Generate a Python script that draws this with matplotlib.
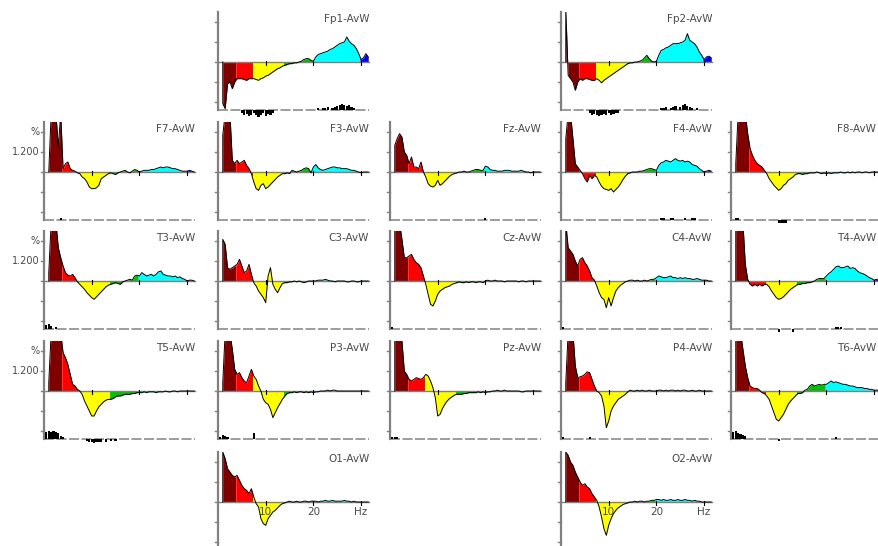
import numpy as np
import matplotlib.pyplot as plt

plt.rcParams['font.family'] = ['DejaVu Sans']

# frequencies 1.0 .. 31.5 Hz, 0.5 Hz steps
freqs = np.arange(1.0, 31.75, 0.5)

# band order per list: delta(6) theta(7) alpha(13) beta1(12) beta2(20) gamma(4)
fp1 = [-2.5, -2.8, -1.3, -1.2, -1.6, -1.2,
       -1.0, -1.0, -1.0, -1.05, -1.1, -1.0, -1.0,
       -1.0, -1.05, -1.1, -1.0, -0.95, -0.85, -0.8, -0.7, -0.6, -0.5, -0.4, -0.35, -0.25,
       -0.2, -0.15, -0.1, -0.1, -0.05, -0.05, 0.0, 0.05, 0.15, 0.2, 0.2, 0.1,
       0.05, 0.3, 0.45, 0.5, 0.55, 0.6, 0.65, 0.75, 0.8, 0.9, 1.0, 1.1, 1.15, 1.2, 1.5, 1.25, 1.1, 1.0, 0.8, 0.5,
       0.15, 0.25, 0.5, 0.3]
fp2 = [3.2, -0.8, -1.0, -1.2, -1.7, -1.2,
       -1.0, -1.1, -1.0, -1.0, -1.05, -1.1, -1.1,
       -1.0, -1.1, -1.25, -1.1, -1.0, -0.9, -0.8, -0.7, -0.6, -0.5, -0.4, -0.3, -0.2,
       -0.1, -0.05, -0.05, 0.0, 0.0, 0.05, 0.1, 0.25, 0.4, 0.2, 0.05, 0.0,
       0.05, 0.4, 0.7, 0.75, 0.85, 0.9, 1.0, 1.1, 1.1, 1.1, 1.15, 1.2, 1.3, 1.7, 1.3, 1.2, 1.1, 0.9, 0.6, 0.4,
       0.15, 0.3, 0.35, 0.25]
f7 = [0.0, 3.5, 3.5, 3.5, 1.5, 3.5,
      0.2, 0.5, 0.6, 0.2, 0.1, 0.05, -0.05,
      -0.1, -0.3, -0.4, -0.6, -0.9, -1.0, -1.0, -0.95, -0.8, -0.4, -0.3, -0.2, -0.1,
      -0.05, -0.1, -0.15, -0.05, 0.0, 0.05, 0.1, 0.0, -0.05, 0.05, 0.15, 0.1,
      0.0, 0.05, 0.1, 0.1, 0.1, 0.15, 0.15, 0.2, 0.25, 0.3, 0.25, 0.3, 0.3, 0.25, 0.2, 0.2, 0.15, 0.1, 0.05, 0.05,
      0.05, 0.1, 0.05, 0.0]
f3 = [2.2, 3.5, 3.5, 3.5, 0.7, 0.5,
      0.7, 0.5, 0.6, 0.7, 0.4, 0.2, -0.1,
      -0.6, -1.0, -1.1, -0.8, -0.7, -1.0, -0.9, -0.75, -0.6, -0.45, -0.3, -0.2, -0.1,
      -0.1, -0.05, -0.1, 0.1, 0.05, 0.0, 0.05, 0.1, 0.2, 0.25, 0.2, -0.05,
      0.3, 0.45, 0.25, 0.15, 0.1, 0.15, 0.2, 0.25, 0.3, 0.3, 0.25, 0.25, 0.2, 0.2, 0.2, 0.15, 0.1, 0.1, 0.05, 0.0,
      -0.05, 0.0, 0.0, 0.0]
fz = [1.6, 2.0, 2.3, 2.1, 1.2, 1.0,
      0.5, 0.9, 0.3, 0.3, 0.2, 0.6, 0.0,
      -0.3, -0.7, -0.85, -0.9, -0.8, -0.5, -0.8, -0.7, -0.55, -0.4, -0.25, -0.15, -0.1,
      -0.05, 0.0, 0.0, 0.05, 0.0, 0.0, 0.05, 0.1, 0.15, 0.15, 0.1, 0.1,
      0.35, 0.3, 0.15, 0.1, 0.1, 0.05, 0.05, 0.05, 0.1, 0.1, 0.1, 0.05, 0.05, 0.05, 0.05, 0.1, 0.05, 0.0, 0.0, -0.05,
      0.0, 0.0, 0.0, 0.0]
f4 = [2.0, 3.5, 3.5, 2.0, 0.5, 0.3,
      0.1, -0.1, -0.4, -0.6, -0.2, -0.4, -0.2,
      -0.3, -0.6, -0.85, -1.0, -1.05, -1.1, -1.0, -1.2, -1.05, -0.9, -0.7, -0.45, -0.25,
      -0.1, -0.05, 0.0, 0.0, 0.0, 0.05, 0.05, 0.1, 0.15, 0.2, 0.2, 0.15,
      0.1, 0.4, 0.55, 0.6, 0.7, 0.65, 0.6, 0.7, 0.8, 0.7, 0.65, 0.7, 0.6, 0.65, 0.6, 0.45, 0.4, 0.35, 0.2, 0.1,
      0.0, 0.05, 0.1, 0.05]
f8 = [0.5, 3.5, 3.5, 3.5, 3.5, 2.3,
      1.4, 1.0, 0.7, 0.5, 0.4, 0.3, 0.1,
      -0.1, -0.4, -0.6, -0.8, -0.95, -1.1, -1.0, -0.8, -0.7, -0.5, -0.4, -0.3, -0.15,
      -0.1, -0.1, -0.15, -0.1, -0.1, -0.05, -0.05, -0.05, 0.0, -0.05, -0.1, -0.05,
      -0.1, -0.05, -0.1, -0.05, -0.05, -0.05, 0.0, -0.05, -0.05, 0.0, -0.05, 0.0, -0.05, 0.0, 0.0, -0.05, 0.0, 0.0, -0.05, 0.0,
      0.0, 0.0, 0.0, 0.0]
t3 = [0.5, 3.5, 3.5, 3.5, 2.0, 1.4,
      0.9, 0.5, 0.35, 0.3, 0.4, 0.2, -0.05,
      -0.2, -0.35, -0.5, -0.7, -0.85, -1.0, -1.1, -0.95, -0.8, -0.65, -0.5, -0.35, -0.25,
      -0.2, -0.15, -0.1, -0.15, -0.2, -0.05, 0.0, 0.05, 0.1, 0.05, 0.3, 0.35,
      0.3, 0.5, 0.4, 0.3, 0.35, 0.4, 0.3, 0.4, 0.55, 0.6, 0.4, 0.35, 0.3, 0.3, 0.25, 0.3, 0.2, 0.25, 0.15, 0.1,
      0.0, 0.05, 0.05, 0.0]
c3 = [2.5, 2.2, 0.8, 0.7, 0.8, 0.9,
      1.0, 1.3, 0.9, 0.5, 0.6, 1.0, 0.4,
      -0.1, -0.3, -0.6, -0.8, -1.0, -1.3, 0.3, 0.8, -0.2, -0.5, -0.7, -0.4, -0.15,
      -0.1, -0.1, -0.05, -0.05, 0.0, -0.05, 0.0, -0.05, -0.1, -0.05, 0.0, 0.0,
      0.0, 0.0, 0.05, 0.05, 0.05, 0.1, 0.05, 0.0, 0.0, -0.05, 0.0, 0.0, 0.0, 0.0, -0.05, -0.05, 0.0, 0.0, -0.05, -0.05,
      0.0, 0.0, 0.0, 0.0]
cz = [3.5, 3.5, 3.5, 2.5, 1.4, 1.4,
      1.5, 1.6, 1.3, 1.1, 1.0, 0.8, 0.3,
      -0.2, -0.8, -1.4, -1.5, -1.2, -0.8, -0.6, -0.5, -0.4, -0.35, -0.3, -0.2, -0.15,
      -0.1, -0.05, -0.1, -0.1, -0.05, -0.1, -0.05, -0.05, -0.1, -0.05, -0.05, -0.1,
      0.0, 0.05, 0.0, 0.0, 0.05, 0.0, 0.0, 0.0, -0.05, 0.0, 0.0, 0.0, 0.0, 0.0, -0.05, 0.0, 0.0, -0.05, 0.0, 0.0,
      0.0, 0.0, 0.0, 0.0]
c4 = [3.5, 2.0, 1.8, 1.6, 1.2, 0.9,
      1.3, 1.4, 1.1, 0.9, 0.6, 0.2, 0.05,
      -0.3, -0.7, -1.0, -1.1, -1.6, -1.0, -1.5, -1.0, -0.6, -0.4, -0.25, -0.15, -0.05,
      0.0, 0.05, 0.05, 0.0, 0.05, 0.0, 0.0, 0.05, 0.0, 0.05, 0.1, 0.1,
      0.2, 0.3, 0.25, 0.2, 0.2, 0.25, 0.3, 0.2, 0.2, 0.15, 0.2, 0.15, 0.2, 0.15, 0.15, 0.1, 0.1, 0.15, 0.1, 0.05,
      0.05, 0.05, 0.0, 0.0]
t4 = [3.5, 3.5, 3.5, 3.5, 1.0, 0.1,
      -0.2, -0.3, -0.2, -0.3, -0.2, -0.3, -0.2,
      -0.2, -0.35, -0.6, -0.8, -1.0, -1.1, -1.05, -0.95, -0.8, -0.65, -0.5, -0.4, -0.3,
      -0.2, -0.2, -0.15, -0.15, -0.1, -0.1, -0.05, 0.0, 0.1, 0.15, 0.15, 0.15,
      0.3, 0.45, 0.55, 0.7, 0.85, 0.9, 0.8, 0.8, 0.85, 0.9, 0.75, 0.8, 0.75, 0.6, 0.5, 0.45, 0.4, 0.3, 0.2, 0.15,
      0.05, 0.1, 0.05, 0.05]
t5 = [0.5, 3.5, 3.5, 3.5, 3.5, 3.5,
      2.3, 2.0, 1.6, 1.0, 0.4, 0.3, 0.1,
      0.0, -0.2, -0.6, -0.9, -1.2, -1.5, -1.5, -1.2, -0.95, -0.8, -0.65, -0.55, -0.5,
      -0.5, -0.45, -0.35, -0.3, -0.3, -0.25, -0.2, -0.2, -0.2, -0.15, -0.15, -0.1,
      -0.1, -0.1, -0.05, -0.1, -0.05, -0.05, -0.05, -0.1, -0.05, -0.05, -0.05, 0.0, -0.05, -0.05, 0.0, 0.0, -0.05, 0.0, 0.0, 0.0,
      0.0, 0.0, 0.0, 0.0]
p3 = [0.5, 3.5, 3.5, 3.5, 2.5, 1.3,
      1.0, 1.1, 0.8, 0.6, 0.5, 0.9, 1.3,
      0.9, 0.7, 0.3, 0.0, -0.5, -0.7, -0.8, -1.1, -1.6, -1.3, -1.0, -0.75, -0.5,
      -0.3, -0.15, -0.1, -0.1, -0.05, -0.1, -0.05, -0.05, -0.1, -0.05, -0.1, -0.05,
      -0.1, -0.05, -0.05, 0.0, 0.0, 0.0, 0.05, 0.0, 0.05, 0.05, 0.0, 0.0, 0.0, 0.0, 0.0, 0.0, 0.0, 0.0, 0.0, 0.0,
      0.0, 0.0, 0.0, 0.0]
pz = [3.5, 3.5, 3.5, 3.0, 1.2, 1.0,
      0.7, 0.6, 0.7, 0.8, 0.75, 0.7, 0.8,
      1.0, 0.9, 0.6, 0.2, -0.4, -1.5, -1.4, -1.05, -0.8, -0.6, -0.45, -0.35, -0.25,
      -0.2, -0.2, -0.2, -0.15, -0.15, -0.1, -0.1, -0.1, -0.1, -0.05, -0.1, -0.05,
      -0.1, -0.05, -0.05, 0.0, 0.0, 0.05, 0.0, 0.0, 0.05, 0.0, 0.0, 0.0, 0.0, 0.0, 0.0, -0.05, -0.05, 0.0, 0.0, 0.0,
      0.0, 0.0, 0.0, 0.0]
p4 = [0.5, 3.5, 3.5, 3.5, 1.5, 0.8,
      0.85, 0.9, 1.0, 1.15, 1.1, 0.7, 0.3,
      0.0, -0.1, -0.3, -0.9, -2.2, -1.8, -1.2, -0.9, -0.7, -0.5, -0.4, -0.3, -0.2,
      -0.05, 0.05, 0.0, 0.0, 0.05, 0.0, 0.05, 0.0, 0.0, 0.05, 0.0, 0.0,
      0.0, 0.05, 0.05, 0.0, 0.05, 0.0, 0.05, 0.05, 0.0, 0.05, 0.0, 0.05, 0.05, 0.0, 0.0, 0.05, 0.0, 0.0, 0.05, 0.0,
      0.0, 0.0, 0.0, 0.0]
t6 = [3.5, 3.5, 3.5, 2.5, 1.5, 0.8,
      0.3, 0.2, 0.15, 0.15, 0.05, -0.1, -0.15,
      -0.3, -0.5, -0.9, -1.3, -1.7, -1.8, -1.6, -1.4, -1.1, -0.8, -0.6, -0.45, -0.3,
      -0.15, -0.15, -0.1, 0.05, 0.1, 0.3, 0.4, 0.3, 0.35, 0.4, 0.35, 0.4,
      0.4, 0.5, 0.6, 0.5, 0.55, 0.5, 0.45, 0.4, 0.4, 0.35, 0.3, 0.3, 0.25, 0.2, 0.2, 0.2, 0.15, 0.15, 0.1, 0.1,
      0.05, 0.05, 0.05, 0.0]
o1 = [3.0, 2.6, 2.0, 1.8, 1.6, 1.5,
      1.6, 1.3, 1.0, 0.8, 0.7, 0.5, 0.8,
      0.3, -0.1, -0.3, -1.0, -1.3, -1.4, -1.0, -0.8, -0.6, -0.5, -0.35, -0.2, -0.1,
      -0.05, 0.0, 0.05, 0.0, 0.0, 0.05, 0.0, 0.0, 0.05, 0.05, 0.0, 0.05,
      0.05, 0.05, 0.0, 0.05, 0.05, 0.1, 0.05, 0.05, 0.1, 0.05, 0.05, 0.05, 0.05, 0.1, 0.05, 0.05, 0.0, 0.05, 0.0, 0.0,
      0.0, 0.0, 0.0, 0.0]
o2 = [3.0, 2.8, 2.4, 2.2, 1.8, 1.5,
      1.2, 1.0, 1.1, 0.9, 0.8, 0.5, 0.3,
      0.1, -0.3, -0.9, -1.6, -2.0, -1.4, -1.0, -0.7, -0.5, -0.35, -0.25, -0.15, -0.1,
      -0.05, 0.0, 0.0, 0.05, 0.0, 0.05, 0.05, 0.0, 0.05, 0.05, 0.1, 0.1,
      0.15, 0.15, 0.1, 0.15, 0.1, 0.1, 0.15, 0.1, 0.1, 0.15, 0.1, 0.1, 0.15, 0.1, 0.1, 0.05, 0.1, 0.05, 0.05, 0.0,
      0.0, 0.0, 0.0, 0.0]

# significance marks on the bottom line: (frequency, height)
sig_fp1 = [(5, -0.2), (5.5, -0.3), (6, -0.25), (6.5, -0.35), (7, -0.3), (7.5, -0.2), (8, -0.3),
           (8.5, -0.4), (9, -0.3), (9.5, -0.2), (10, -0.35), (10.5, -0.25), (11, -0.3), (11.5, -0.2),
           (21, 0.1), (22, 0.15), (22.5, 0.1), (23, 0.2), (24, 0.15), (24.5, 0.2), (25, 0.25),
           (25.5, 0.3), (26, 0.35), (26.5, 0.3), (27, 0.25), (27.5, 0.3), (28, 0.2), (28.5, 0.1)]
sig_fp2 = [(6, -0.2), (6.5, -0.3), (7, -0.25), (7.5, -0.3), (8, -0.35), (8.5, -0.3), (9, -0.25),
           (9.5, -0.3), (10, -0.2), (10.5, -0.3), (11, -0.25), (11.5, -0.2), (12, -0.15),
           (21, 0.1), (21.5, 0.15), (22, 0.2), (23, 0.15), (23.5, 0.2), (24, 0.25), (25, 0.2),
           (25.5, 0.3), (26, 0.35), (26.5, 0.25), (27, 0.2), (27.5, 0.15), (28.5, 0.1)]
sig_f7 = [(3.5, 0.15)]
sig_f3 = []
sig_fz = [(20, 0.1)]
sig_f4 = [(21, 0.15), (21.5, 0.1), (23, 0.15), (23.5, 0.1), (26, 0.1), (27.5, 0.15), (28, 0.1)]
sig_f8 = [(1, 0.15), (1.5, 0.1), (10, -0.15), (10.5, -0.2), (11, -0.15), (11.5, -0.2)]
sig_t3 = [(0.5, 0.25), (1, 0.3), (1.5, 0.2), (2.5, 0.1)]
sig_c3 = []
sig_cz = [(0.5, 0.1)]
sig_c4 = [(0.5, 0.1)]
sig_t4 = [(10, -0.15), (13, -0.15), (22, 0.1), (22.5, 0.15), (23, 0.1)]
sig_t5 = [(0.5, 0.45), (1, 0.5), (1.5, 0.45), (2, 0.5), (2.5, 0.4), (3, 0.35), (3.5, 0.2), (4, 0.1),
          (9, -0.1), (9.5, -0.15), (10, -0.2), (10.5, -0.25), (11, -0.2), (11.5, -0.2), (12, -0.15),
          (13, -0.15), (14, -0.1), (15, -0.1)]
sig_p3 = [(0.5, 0.15), (1, 0.25), (1.5, 0.2), (2, 0.1), (7.5, 0.35)]
sig_pz = [(0.5, 0.1), (1, 0.1), (1.5, 0.1)]
sig_p4 = [(0.5, 0.15), (6, 0.1)]
sig_t6 = [(0.5, 0.4), (1, 0.5), (1.5, 0.35), (2, 0.3), (2.5, 0.25), (3, 0.2), (10, -0.1), (22, 0.15)]
sig_o1 = []
sig_o2 = []

band_edges = [1.0, 3.75, 7.25, 13.75, 19.75, 29.75, 31.5]
band_colors = ['#800000', '#ff0000', '#ffff00', '#00c000', '#00ffff', '#0000ff']

# name, values, significance, column, row
channels = [('Fp1', fp1, sig_fp1, 1, 0), ('Fp2', fp2, sig_fp2, 3, 0),
            ('F7', f7, sig_f7, 0, 1), ('F3', f3, sig_f3, 1, 1), ('Fz', fz, sig_fz, 2, 1),
            ('F4', f4, sig_f4, 3, 1), ('F8', f8, sig_f8, 4, 1),
            ('T3', t3, sig_t3, 0, 2), ('C3', c3, sig_c3, 1, 2), ('Cz', cz, sig_cz, 2, 2),
            ('C4', c4, sig_c4, 3, 2), ('T4', t4, sig_t4, 4, 2),
            ('T5', t5, sig_t5, 0, 3), ('P3', p3, sig_p3, 1, 3), ('Pz', pz, sig_pz, 2, 3),
            ('P4', p4, sig_p4, 3, 3), ('T6', t6, sig_t6, 4, 3),
            ('O1', o1, sig_o1, 1, 4), ('O2', o2, sig_o2, 3, 4)]

col_x = [44, 218, 390, 561, 731]
row_zero = [62, 172, 281, 391, 502]

W, H = 879, 546
px_hz = 4.77
px_unit = 1 / 0.06
xmax = 32.0
ytop, ybot = 3.0, -3.4
base = -2.88
grey = '#808080'
txt = '#4a4a4a'

fig = plt.figure(figsize=(W / 100, H / 100), dpi=100)

for name, vals, sig, c, r in channels:
    x0 = col_x[c]
    z = row_zero[r]
    top_px = z - ytop * px_unit
    bot_px = z - ybot * px_unit
    ax = fig.add_axes([x0 / W, 1 - bot_px / H, xmax * px_hz / W, (bot_px - top_px) / H])
    ax.set_xlim(0, xmax)
    ax.set_ylim(ybot, ytop)
    ax.axis('off')

    v = np.array(vals)
    for k, col in enumerate(band_colors):
        lo, hi = band_edges[k], band_edges[k + 1]
        inner = freqs[(freqs > lo) & (freqs < hi)]
        xs = np.concatenate(([lo], inner, [hi]))
        ys = np.interp(xs, freqs, v)
        ax.fill_between(xs, ys, 0, color=col, lw=0, zorder=2)
    ax.plot(np.concatenate(([freqs[0]], freqs)), np.concatenate(([0], v)),
            color='black', lw=0.7, zorder=4)

    # zero line and frequency ticks
    ax.plot([0, xmax - 0.3], [0, 0], color=grey, lw=1.0, zorder=3)
    for t in (10, 20, 30):
        ax.plot([t, t], [-0.15, 0.05], color='black', lw=0.8, zorder=4)

    # left axis with ticks
    ax.plot([0, 0], [base, ytop], color=grey, lw=1.6, clip_on=False, zorder=5)
    for yt in (2.4, 1.2, 0, -1.2, -2.4):
        ax.plot([-0.7, 0], [yt, yt], color=grey, lw=1.0, clip_on=False, zorder=5)

    # bottom line
    if r < 4:
        ax.plot([0, xmax - 0.3], [base, base], color='#8c8c8c', lw=1.2,
                dashes=(6, 1.5), clip_on=False, zorder=3)
        if sig:
            sf = [s[0] for s in sig]
            sh = [s[1] for s in sig]
            ax.bar(sf, sh, width=0.45, bottom=base, color='black', lw=0,
                   clip_on=False, zorder=5)

    # channel label, kept inside the picture on the right column
    lab_x = min(xmax - 0.3, (W - 3 - x0) / px_hz)
    ax.text(lab_x, ytop - 0.1, name + '-AvW', ha='right', va='top',
            fontsize=7.5, color=txt)

    if c == 0:
        ax.text(-0.9, 2.4, '%', ha='right', va='center', fontsize=7, color=txt)
        ax.text(-0.9, 1.2, '1.200', ha='right', va='center', fontsize=7, color=txt)

    if r == 4:
        for t, lab in ((10, '10'), (20, '20'), (30, 'Hz')):
            ax.text(t, -0.3, lab, ha='center', va='top', fontsize=7.5, color=txt)

fig.savefig('out.png', dpi=100)
